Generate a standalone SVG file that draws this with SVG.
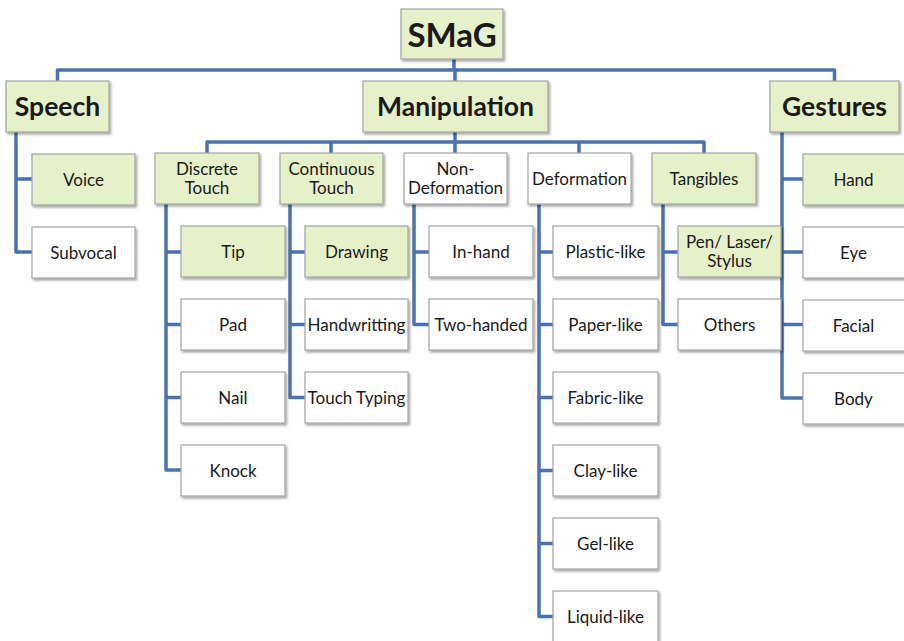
<svg xmlns="http://www.w3.org/2000/svg" width="904" height="641" viewBox="0 0 904 641">
  <defs>
    <filter id="shadow" x="-10%" y="-10%" width="130%" height="140%">
      <feDropShadow dx="1.5" dy="2" stdDeviation="1.2" flood-color="#000" flood-opacity="0.35"/>
    </filter>
  </defs>
  <style>
    .box { stroke: #a3a3a3; stroke-width: 1.2; filter: url(#shadow); }
    .g { fill: #e6f0c9; }
    .w { fill: #ffffff; }
    text { font-family: Lato, "Open Sans", sans-serif; fill: #1a1a1a; text-anchor: middle; dominant-baseline: central; }
    .t { font-size: 17px; }
    .b { font-size: 26.5px; font-weight: bold; }
    .root { font-size: 33px; font-weight: bold; }
    .conn { fill: none; stroke: #4a72b0; stroke-width: 3.5; stroke-linejoin: round; stroke-linecap: butt; }
  </style>

  <!-- connectors -->
  <g id="connectors" class="conn">
    <!-- root to top-level categories -->
    <path d="M454 59 V70"/>
    <path d="M57.5 81 V70 H834.5 V81"/>
    <path d="M455 70 V81"/>
    <!-- Manipulation to its sub-categories -->
    <path d="M455 132 V153"/>
    <path d="M207 153 V142 H704 V153"/>
    <path d="M331 142 V153"/>
    <path d="M579 142 V153"/>
    <!-- Speech -->
    <path d="M16 132 V252 H32"/>
    <path d="M16 179 H32"/>
    <!-- Discrete Touch -->
    <path d="M166 204 V470 H181"/>
    <path d="M166 252 H181 M166 324.5 H181 M166 397.5 H181"/>
    <!-- Continuous Touch -->
    <path d="M290 204 V397.5 H305"/>
    <path d="M290 252 H305 M290 324.5 H305"/>
    <!-- Non-Deformation -->
    <path d="M414 204 V324.5 H429"/>
    <path d="M414 252 H429"/>
    <!-- Deformation -->
    <path d="M539 204 V616.5 H553"/>
    <path d="M539 252 H553 M539 324.5 H553 M539 397.5 H553 M539 470.5 H553 M539 543.5 H553"/>
    <!-- Tangibles -->
    <path d="M663 204 V324.5 H678"/>
    <path d="M663 252 H678"/>
    <!-- Gestures -->
    <path d="M782 132 V398 H803"/>
    <path d="M782 179 H803 M782 252 H803 M782 324.5 H803"/>
  </g>

  <!-- root -->
  <g id="smag">
    <rect class="box g" x="401" y="9" width="102" height="50"/>
    <text class="root" x="452" y="33.5">SMaG</text>
  </g>

  <!-- top-level categories -->
  <g id="speech">
    <rect class="box g" x="6" y="81" width="103" height="51"/>
    <text class="b" x="57.5" y="106">Speech</text>
  </g>
  <g id="manipulation">
    <rect class="box g" x="363" y="81" width="185" height="51"/>
    <text class="b" x="455.5" y="106">Manipulation</text>
  </g>
  <g id="gestures">
    <rect class="box g" x="770" y="81" width="129" height="51"/>
    <text class="b" x="834.5" y="106">Gestures</text>
  </g>

  <!-- Speech children -->
  <g id="voice">
    <rect class="box g" x="32" y="154" width="103" height="51"/>
    <text class="t" x="83.5" y="179">Voice</text>
  </g>
  <g id="subvocal">
    <rect class="box w" x="32" y="227" width="103" height="51"/>
    <text class="t" x="83.5" y="252">Subvocal</text>
  </g>

  <!-- Manipulation children -->
  <g id="discrete-touch">
    <rect class="box g" x="155" y="153" width="104" height="51"/>
    <text class="t" x="207" y="168.5">Discrete</text>
    <text class="t" x="207" y="187.5">Touch</text>
  </g>
  <g id="continuous-touch">
    <rect class="box g" x="280" y="153" width="103" height="51"/>
    <text class="t" x="331.5" y="168.5">Continuous</text>
    <text class="t" x="331.5" y="187.5">Touch</text>
  </g>
  <g id="non-deformation">
    <rect class="box w" x="404" y="153" width="103" height="51"/>
    <text class="t" x="455.5" y="168.5">Non-</text>
    <text class="t" x="455.5" y="187.5">Deformation</text>
  </g>
  <g id="deformation">
    <rect class="box w" x="528" y="153" width="103" height="51"/>
    <text class="t" x="579.5" y="178">Deformation</text>
  </g>
  <g id="tangibles">
    <rect class="box g" x="652" y="153" width="104" height="51"/>
    <text class="t" x="704" y="178">Tangibles</text>
  </g>

  <!-- Discrete Touch children -->
  <g id="tip">
    <rect class="box g" x="181" y="226" width="104" height="51"/>
    <text class="t" x="233" y="251">Tip</text>
  </g>
  <g id="pad">
    <rect class="box w" x="181" y="299" width="104" height="51"/>
    <text class="t" x="233" y="324">Pad</text>
  </g>
  <g id="nail">
    <rect class="box w" x="181" y="372" width="104" height="51"/>
    <text class="t" x="233" y="397">Nail</text>
  </g>
  <g id="knock">
    <rect class="box w" x="181" y="445" width="104" height="51"/>
    <text class="t" x="233" y="470">Knock</text>
  </g>

  <!-- Continuous Touch children -->
  <g id="drawing">
    <rect class="box g" x="305" y="226" width="103" height="51"/>
    <text class="t" x="356.5" y="251">Drawing</text>
  </g>
  <g id="handwritting">
    <rect class="box w" x="305" y="299" width="103" height="51"/>
    <text class="t" x="356.5" y="324">Handwritting</text>
  </g>
  <g id="touch-typing">
    <rect class="box w" x="305" y="372" width="103" height="51"/>
    <text class="t" x="356.5" y="397">Touch Typing</text>
  </g>

  <!-- Non-Deformation children -->
  <g id="in-hand">
    <rect class="box w" x="429" y="226" width="104" height="51"/>
    <text class="t" x="481" y="251">In-hand</text>
  </g>
  <g id="two-handed">
    <rect class="box w" x="429" y="299" width="104" height="51"/>
    <text class="t" x="481" y="324">Two-handed</text>
  </g>

  <!-- Deformation children -->
  <g id="plastic-like">
    <rect class="box w" x="553" y="226" width="105" height="51"/>
    <text class="t" x="605.5" y="251">Plastic-like</text>
  </g>
  <g id="paper-like">
    <rect class="box w" x="553" y="299" width="105" height="51"/>
    <text class="t" x="605.5" y="324">Paper-like</text>
  </g>
  <g id="fabric-like">
    <rect class="box w" x="553" y="372" width="105" height="51"/>
    <text class="t" x="605.5" y="397">Fabric-like</text>
  </g>
  <g id="clay-like">
    <rect class="box w" x="553" y="445" width="105" height="51"/>
    <text class="t" x="605.5" y="470">Clay-like</text>
  </g>
  <g id="gel-like">
    <rect class="box w" x="553" y="518" width="105" height="51"/>
    <text class="t" x="605.5" y="543">Gel-like</text>
  </g>
  <g id="liquid-like">
    <rect class="box w" x="553" y="591" width="105" height="51"/>
    <text class="t" x="605.5" y="616">Liquid-like</text>
  </g>

  <!-- Tangibles children -->
  <g id="pen-laser-stylus">
    <rect class="box g" x="678" y="226" width="103" height="51"/>
    <text class="t" x="729.5" y="241.5">Pen/ Laser/</text>
    <text class="t" x="729.5" y="260.5">Stylus</text>
  </g>
  <g id="others">
    <rect class="box w" x="678" y="299" width="103" height="51"/>
    <text class="t" x="729.5" y="324">Others</text>
  </g>

  <!-- Gestures children -->
  <g id="hand">
    <rect class="box g" x="803" y="154" width="104" height="51"/>
    <text class="t" x="853.5" y="179">Hand</text>
  </g>
  <g id="eye">
    <rect class="box w" x="803" y="227" width="104" height="51"/>
    <text class="t" x="853.5" y="252">Eye</text>
  </g>
  <g id="facial">
    <rect class="box w" x="803" y="300" width="104" height="51"/>
    <text class="t" x="853.5" y="325">Facial</text>
  </g>
  <g id="body">
    <rect class="box w" x="803" y="373" width="104" height="51"/>
    <text class="t" x="853.5" y="398">Body</text>
  </g>
</svg>
